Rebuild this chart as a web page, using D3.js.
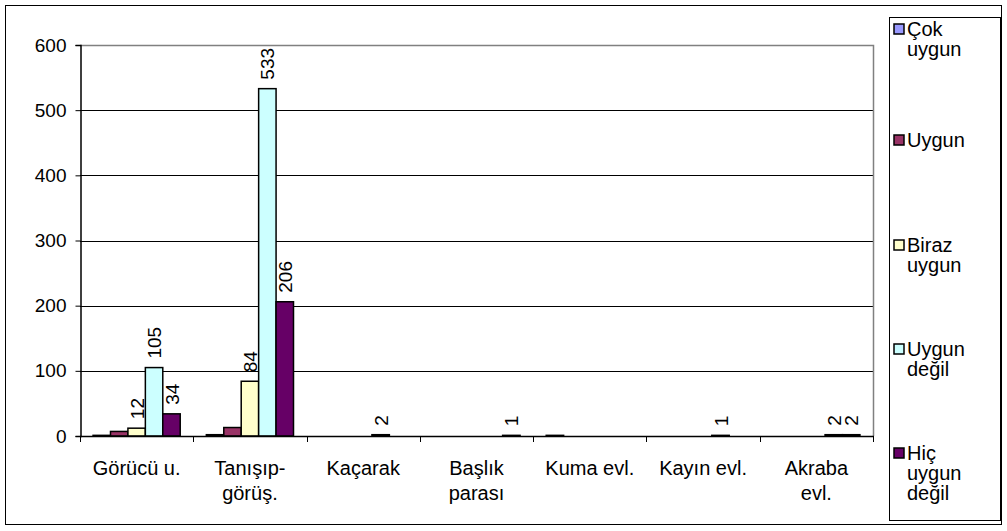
<!DOCTYPE html>
<html>
<head>
<meta charset="utf-8">
<script src="https://cdn.jsdelivr.net/npm/d3@7"></script>
<style>
  html, body { margin: 0; padding: 0; background: #fff; }
  svg { display: block; font-family: "Liberation Sans", Arial, sans-serif; }
  svg text { font-family: "Liberation Sans", Arial, sans-serif; }
</style>
</head>
<body>
<svg id="chart" width="1007" height="531"></svg>
<script>
const categories = ["Görücü u.", "Tanışıp-görüş.", "Kaçarak", "Başlık parası", "Kuma evl.", "Kayın evl.", "Akraba evl."];
const categoryLines = [["Görücü u."], ["Tanışıp-", "görüş."], ["Kaçarak"], ["Başlık", "parası"], ["Kuma evl."], ["Kayın evl."], ["Akraba", "evl."]];
const seriesNames = ["Çok uygun", "Uygun", "Biraz uygun", "Uygun değil", "Hiç uygun değil"];
const legendLines = [["Çok", "uygun"], ["Uygun"], ["Biraz", "uygun"], ["Uygun", "değil"], ["Hiç", "uygun", "değil"]];
const cokUygun = [1, 2, 0, 0, 1, 0, 0];
const uygun = [7, 13, 0, 0, 0, 0, 0];
const birazUygun = [12, 84, 0, 0, 0, 0, 0];
const uygunDegil = [105, 533, 2, 0, 0, 1, 2];
const hicUygunDegil = [34, 206, 0, 1, 0, 0, 2];
const yTicks = [0, 100, 200, 300, 400, 500, 600];
const seriesColors = ["#9999FF", "#993366", "#FFFFCC", "#CCFFFF", "#660066"];
const labeledSeries = [false, false, true, true, true];

const allSeries = [cokUygun, uygun, birazUygun, uygunDegil, hicUygunDegil];

const svg = d3.select("#chart");

// outer border
svg.append("rect").attr("x", 5.5).attr("y", 5.5).attr("width", 996).attr("height", 519)
  .attr("fill", "#fff").attr("stroke", "#000").attr("stroke-width", 1);

const plot = { left: 80, right: 873, top: 45, bottom: 436 };

const x = d3.scaleBand().domain(categories).range([plot.left, plot.right]).paddingInner(0).paddingOuter(0);
const bw = x.bandwidth() / (seriesNames.length + 1.5);
const xs = d3.scaleBand().domain(seriesNames)
  .range([bw * 0.75, bw * 0.75 + bw * seriesNames.length]).padding(0);
const y = d3.scaleLinear().domain([0, 600]).range([plot.bottom, plot.top]);

// gridlines
svg.append("g").selectAll("line").data(yTicks.filter(t => t > 0 && t < 600)).join("line")
  .attr("x1", plot.left).attr("x2", plot.right)
  .attr("y1", d => Math.round(y(d)) + 0.5).attr("y2", d => Math.round(y(d)) + 0.5)
  .attr("stroke", "#000").attr("stroke-width", 1);

// plot border top & right (gray)
svg.append("path")
  .attr("d", `M${plot.left},${plot.top + 0.5}H${plot.right + 0.5}V${plot.bottom}`)
  .attr("fill", "none").attr("stroke", "#808080").attr("stroke-width", 1.5);

// bars
const barData = [];
allSeries.forEach((vals, si) => {
  vals.forEach((v, ci) => {
    barData.push({ s: seriesNames[si], si, c: categories[ci], v });
  });
});
svg.append("g").selectAll("rect").data(barData.filter(d => d.v > 0)).join("rect")
  .attr("x", d => x(d.c) + xs(d.s))
  .attr("y", d => y(d.v))
  .attr("width", xs.bandwidth())
  .attr("height", d => y(0) - y(d.v))
  .attr("fill", d => seriesColors[d.si])
  .attr("stroke", "#000").attr("stroke-width", 1.5);

// data labels
svg.append("g").selectAll("text").data(barData.filter(d => d.v > 0 && labeledSeries[d.si])).join("text")
  .attr("transform", d => `translate(${x(d.c) + xs(d.s) + xs.bandwidth() / 2 + 7},${y(d.v) - 9}) rotate(-90)`)
  .attr("text-anchor", "start")
  .attr("font-size", 19)
  .attr("fill", "#000")
  .text(d => d.v);

// y axis
const yAxis = d3.axisLeft(y).tickValues(yTicks).tickSize(5).tickPadding(9);
const gy = svg.append("g").attr("transform", `translate(${plot.left + 0.5},0)`).call(yAxis);
gy.attr("font-family", null).attr("font-size", null);
gy.select(".domain").attr("stroke", "#000").attr("stroke-width", 1.5);
gy.selectAll(".tick line").attr("stroke", "#000");
gy.selectAll(".tick text").attr("font-size", 19).attr("fill", "#000");

// x axis line and ticks at category boundaries
svg.append("line").attr("x1", plot.left).attr("x2", plot.right + 1)
  .attr("y1", plot.bottom + 0.5).attr("y2", plot.bottom + 0.5)
  .attr("stroke", "#000").attr("stroke-width", 1.5);
const bounds = categories.map(c => x(c)).concat([plot.right]);
svg.append("g").selectAll("line").data(bounds).join("line")
  .attr("x1", d => Math.round(d) + 0.5).attr("x2", d => Math.round(d) + 0.5)
  .attr("y1", plot.bottom).attr("y2", plot.bottom + 6)
  .attr("stroke", "#000").attr("stroke-width", 1);

// category labels
const cl = svg.append("g").selectAll("text").data(categories).join("text")
  .attr("text-anchor", "middle")
  .attr("font-size", 20)
  .attr("fill", "#000");
cl.each(function (c, i) {
  const t = d3.select(this);
  categoryLines[i].forEach((line, li) => {
    t.append("tspan").attr("x", x(c) + x.bandwidth() / 2).attr("y", 475 + li * 25).text(line);
  });
});

// legend
const lg = { x: 889, y: 17, w: 111, h: 503 };
svg.append("rect").attr("x", lg.x + 0.5).attr("y", lg.y + 0.5).attr("width", lg.w).attr("height", lg.h)
  .attr("fill", "#fff").attr("stroke", "#000").attr("stroke-width", 1);
const entryTop = [22, 133, 238, 342, 446];
const le = svg.append("g").selectAll("g").data(seriesNames).join("g");
le.append("rect")
  .attr("x", lg.x + 5).attr("y", (d, i) => entryTop[i] + 2)
  .attr("width", 10).attr("height", 10)
  .attr("fill", (d, i) => seriesColors[i]).attr("stroke", "#000").attr("stroke-width", 1.5);
le.append("text").attr("font-size", 20).attr("fill", "#000")
  .each(function (d, i) {
    const t = d3.select(this);
    legendLines[i].forEach((line, li) => {
      t.append("tspan").attr("x", lg.x + 18).attr("y", entryTop[i] + 14 + li * 20).text(line);
    });
  });
</script>
</body>
</html>
